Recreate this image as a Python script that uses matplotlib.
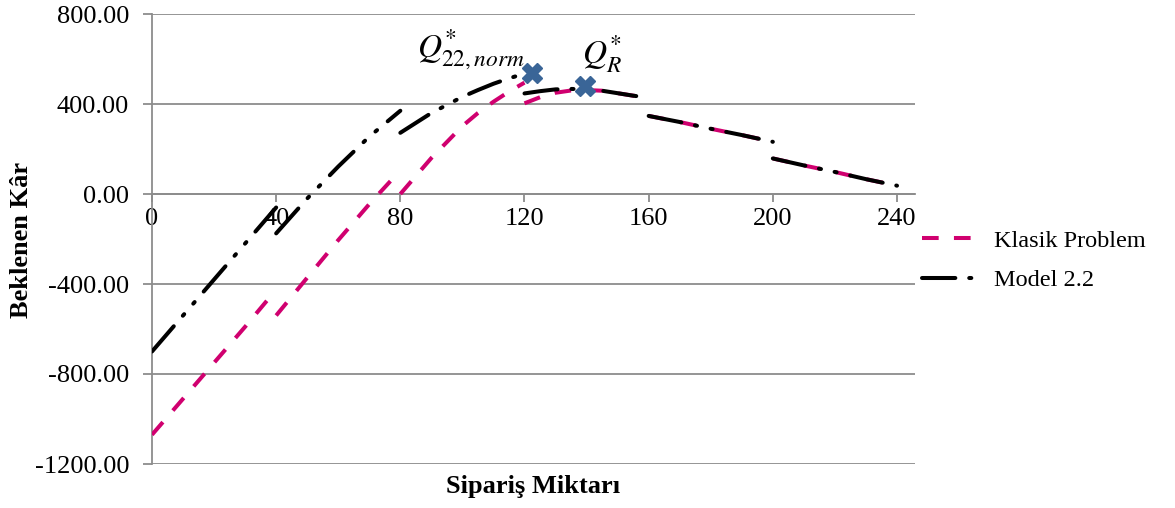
import numpy as np
import matplotlib
matplotlib.use("Agg")
import matplotlib.pyplot as plt

plt.rcParams['font.family'] = ['Liberation Serif', 'DejaVu Serif']
plt.rcParams['mathtext.fontset'] = 'stix'
plt.rcParams['lines.scale_dashes'] = False

nan = np.nan

# Siparis miktari (x) - NaN marks the jump at each multiple of 40
q = [0, 10, 20, 30, 40, nan,
     40, 50, 60, 70, 80, nan,
     80, 90, 100, 105, 110, 115, 120, nan,
     120, 125, 130, 135, 140, 145, 150, 155, 160, nan,
     160, 170, 180, 190, 200, nan,
     200, 210, 220, 230, 240]

# Klasik Problem
klasik = [-1070, -910, -750, -590, -425, nan,
          -540, -372, -205, -45, 105, nan,
          0, 160, 302, 360, 410, 455, 495, nan,
          403, 430, 450, 460, 462, 459, 448, 437, 428, nan,
          347, 320, 290, 262, 232, nan,
          158, 127, 98, 66, 37]

# Model 2.2
model22 = [-700, -540, -380, -220, -60, nan,
           -175, -20, 122, 255, 370, nan,
           272, 360, 432, 462, 490, 514, 535, nan,
           447, 457, 465, 467, 465, 459, 448, 437, 428, nan,
           347, 320, 290, 262, 232, nan,
           158, 127, 98, 66, 37]

# optimum noktalar
opt_q = [122.3, 139.5]
opt_k = [536, 480]
opt_lbl = [r'$Q^{*}_{22,norm}$', r'$Q^{*}_{R}$']

xticks = [0, 40, 80, 120, 160, 200, 240]
yticks = [-1200, -800, -400, 0, 400, 800]

fig = plt.figure(figsize=(11.75, 5.08), dpi=100)
ax = fig.add_axes([152 / 1175, 1 - 464 / 508, (915 - 152) / 1175, 450 / 508])

# x ekseni y=0'da
for s in ['top', 'right']:
    ax.spines[s].set_visible(False)
ax.spines['bottom'].set_position(('data', 0))
ax.spines['bottom'].set_color('#8C8C8C')
ax.spines['bottom'].set_linewidth(1.3)
ax.spines['left'].set_color('#8C8C8C')
ax.spines['left'].set_linewidth(1.3)

ax.plot(q, klasik, color='#D0006F', lw=2.9, ls=(0, (12, 11)),
        dash_capstyle='butt', label='Klasik Problem', zorder=3)
ax.plot(q, model22, color='black', lw=2.9, ls=(0, (24, 10, 1.5, 10, 1.5, 10)),
        dash_capstyle='round', label='Model 2.2', zorder=4)
ax.plot(opt_q, opt_k, ls='none', marker='X', ms=15, color='#3A6597',
        markeredgecolor='#3A6597', zorder=5)

ax.annotate(opt_lbl[0], (opt_q[0], opt_k[0]), xytext=(-44, 1), textcoords='offset points',
            fontsize=24, ha='center', va='bottom')
ax.annotate(opt_lbl[1], (opt_q[1], opt_k[1]), xytext=(12, 8), textcoords='offset points',
            fontsize=24, ha='center', va='bottom')

ax.set_xlim(0, 245.8)
ax.set_ylim(-1200, 800)
ax.set_yticks(yticks)
ax.set_yticklabels(['%.2f' % v for v in yticks])
ax.set_xticks(xticks)
ax.set_xticklabels([str(v) for v in xticks])
ax.yaxis.grid(True, color='#8C8C8C', lw=1.3)
ax.set_axisbelow(True)

ax.tick_params(axis='y', length=6.5, color='#8C8C8C', width=1.3, pad=10, labelsize=19)
ax.tick_params(axis='x', length=6, color='#8C8C8C', width=1.3, pad=4, direction='out',
               labelsize=19)

fig.text(22 / 1175, 1 - 240 / 508, 'Beklenen Kâr', fontsize=19, fontweight='bold',
         rotation=90, ha='center', va='center')
fig.text(533 / 1175, 1 - 487 / 508, 'Sipariş Miktarı', fontsize=19, fontweight='bold',
         ha='center', va='center')

ax.legend(loc='center left', bbox_to_anchor=(1.009, 0.452), frameon=False, fontsize=17.5,
          handlelength=2.45, handletextpad=0.5, labelspacing=0.72,
          borderpad=0, borderaxespad=0)

fig.savefig('out.png', dpi=100)
